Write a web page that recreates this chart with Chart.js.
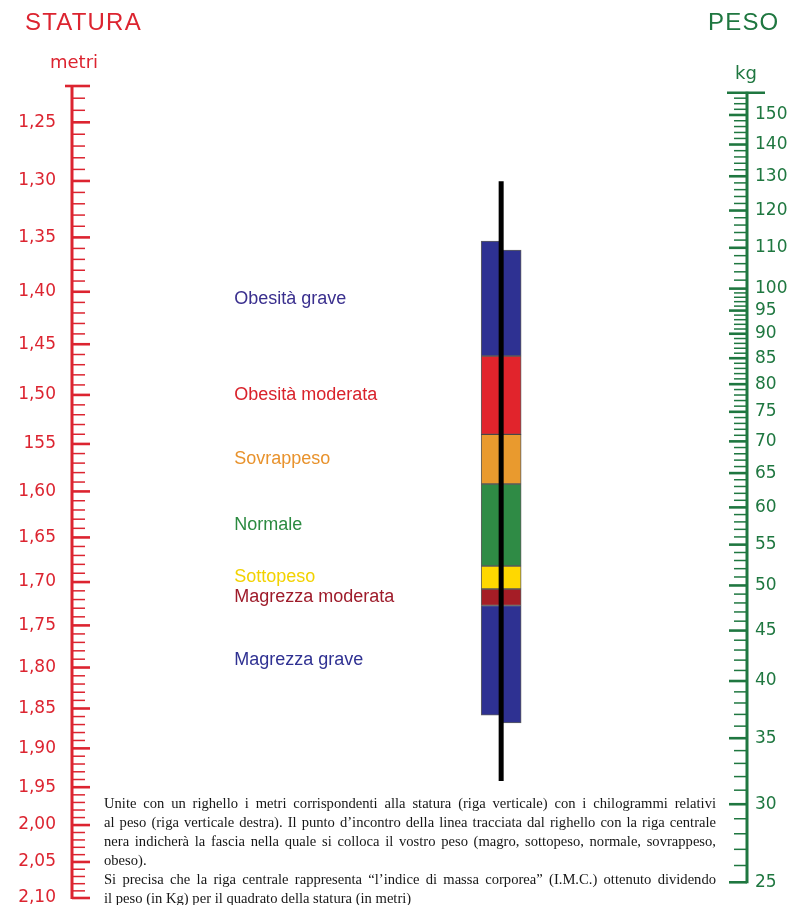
<!DOCTYPE html>
<html lang="it">
<head>
<meta charset="utf-8">
<title>Statura e peso – I.M.C.</title>
<script src="https://cdn.jsdelivr.net/npm/chart.js@4.4.1/dist/chart.umd.min.js"></script>
<style>
  html, body { margin: 0; padding: 0; background: #fff; }
  #wrap { position: relative; width: 794px; height: 905px; overflow: hidden; }
  #chart { position: absolute; left: 0; top: 0; }
  .head { position: absolute; top: 10px; font-family: 'Liberation Sans', Arial, sans-serif; font-size: 24px; line-height: 1; letter-spacing: 1.2px; white-space: nowrap; }
  .unit { position: absolute; font-family: 'DejaVu Sans', sans-serif; font-size: 18px; line-height: 1; white-space: nowrap; }
  #note { position: absolute; left: 104px; top: 794px; width: 612px; font-family: 'Liberation Serif', 'Times New Roman', serif; font-size: 14.6px; line-height: 19px; color: #161616; }
  #note div { white-space: nowrap; text-align: justify; text-align-last: justify; }
  #note div.end { text-align-last: left; }
</style>
</head>
<body>
<div id="wrap">
  <canvas id="chart" width="794" height="905"></canvas>
  <div class="head" style="left:25px;color:#dc2430">STATURA</div>
  <div class="head" style="left:708px;color:#1f7740">PESO</div>
  <div class="unit" style="left:50px;top:53px;color:#dc2430">metri</div>
  <div class="unit" style="left:735px;top:64px;color:#1f7740">kg</div>
  <div id="note">
    <div>Unite con un righello i metri corrispondenti alla statura (riga verticale) con i chilogrammi relativi</div>
    <div>al peso (riga verticale destra). Il punto d’incontro della linea tracciata dal righello con la riga centrale</div>
    <div>nera indicherà la fascia nella quale si colloca il vostro peso (magro, sottopeso, normale, sovrappeso,</div>
    <div class="end">obeso).</div>
    <div>Si precisa che la riga centrale rappresenta “l’indice di massa corporea” (I.M.C.) ottenuto dividendo</div>
    <div class="end">il peso (in Kg) per il quadrato della statura (in metri)</div>
  </div>
</div>
<script>
// Statura (m) – left ruler, log scale, grows downwards
const heightMajor = [1.25, 1.30, 1.35, 1.40, 1.45, 1.50, 1.55, 1.60, 1.65, 1.70, 1.75, 1.80, 1.85, 1.90, 1.95, 2.00, 2.05, 2.10];
const heightLabels = ['1,25', '1,30', '1,35', '1,40', '1,45', '1,50', '155', '1,60', '1,65', '1,70', '1,75', '1,80', '1,85', '1,90', '1,95', '2,00', '2,05', '2,10'];
const heightRuler = [1.22, 2.10];

// Peso (kg) – right ruler, log scale, grows upwards
const weightMajor = [25, 30, 35, 40, 45, 50, 55, 60, 65, 70, 75, 80, 85, 90, 95, 100, 110, 120, 130, 140, 150];
const weightRuler = [25, 158];
const weightAxis = [24.1, 160.5];

// central IMC ribbon
const bandNames = ['Obesità grave', 'Obesità moderata', 'Sovrappeso', 'Normale', 'Sottopeso', 'Magrezza moderata', 'Magrezza grave'];
const bmiCuts = [40, 30, 25, 18.5, 17, 16];
const ribbonTop = [61, 59];        // left half, right half
const ribbonBottom = [10.7, 10.4];
const bmiLine = [76, 8.4];

const RED = '#dc2430';
const GREEN = '#1f7740';
const bandColors = ['#2e3192', '#e1242c', '#e99a2e', '#2f8b45', '#ffd800', '#a51d26', '#2e3192'];
const labelColors = ['#3a2f8e', '#d9222b', '#e8922c', '#2b8a40', '#f2d200', '#9e1b2a', '#2f3192'];

function steps(from, to, step) {
  const out = [];
  for (let v = from; v <= to + 1e-9; v += step) out.push(Math.round(v * 100) / 100);
  return out;
}
const heightTicks = steps(heightRuler[0], heightRuler[1], 0.01);
const weightTicks = steps(weightRuler[0], 100, 1).concat(steps(102, weightRuler[1], 2));

// nomogram geometry: the IMC line sits where the two log rulers combine into W/H²
const Rh = Math.log(heightRuler[1] / heightRuler[0]);
const Rw = Math.log(weightAxis[1] / weightAxis[0]);
const mid = Rw / (Rw + 2 * Rh);
const bmiMin = weightAxis[0] / (heightRuler[1] * heightRuler[1]);
const bmiMax = weightAxis[1] / (heightRuler[0] * heightRuler[0]);

const leftBounds = [ribbonTop[0], ...bmiCuts, ribbonBottom[0]];
const rightBounds = [ribbonTop[1], ...bmiCuts, ribbonBottom[1]];
const half = b => bandNames.map((_, i) => ({ x: mid, y: [b[i + 1], b[i]] }));

function drawRuler(ctx, scale, x, dir, ends, color, cap) {
  const y0 = scale.getPixelForValue(ends[0]);
  const y1 = scale.getPixelForValue(ends[1]);
  ctx.save();
  ctx.strokeStyle = color;
  ctx.lineWidth = 3;
  ctx.beginPath(); ctx.moveTo(x, Math.min(y0, y1) - 1); ctx.lineTo(x, Math.max(y0, y1) + 1); ctx.stroke();
  scale.ticks.forEach(t => {
    const y = scale.getPixelForValue(t.value);
    ctx.lineWidth = t.major ? 2.6 : 1.5;
    ctx.beginPath(); ctx.moveTo(x, y); ctx.lineTo(x + dir * (t.major ? 18 : 13), y); ctx.stroke();
  });
  // cap on the open end of the ruler
  const yc = scale.getPixelForValue(cap.value);
  ctx.lineWidth = 2.6;
  ctx.beginPath(); ctx.moveTo(x - dir * cap.out, yc); ctx.lineTo(x + dir * cap.in, yc); ctx.stroke();
  ctx.restore();
}

const rulers = {
  id: 'rulers',
  afterDraw(chart) {
    const { ctx, chartArea, scales } = chart;
    drawRuler(ctx, scales.h, chartArea.left, 1, heightRuler, RED, { value: heightRuler[0], in: 18, out: 7 });
    drawRuler(ctx, scales.w, chartArea.right, -1, weightRuler, GREEN, { value: weightRuler[1], in: 20, out: 18 });
  }
};

const bandLabels = {
  id: 'bandLabels',
  afterDatasetsDraw(chart) {
    const { ctx, scales } = chart;
    const x = scales.x.getPixelForValue(mid) - 267;
    ctx.save();
    ctx.font = '18px "Liberation Sans", Arial, sans-serif';
    ctx.textAlign = 'left';
    ctx.textBaseline = 'middle';
    bandNames.forEach((name, i) => {
      const y = scales.bmi.getPixelForValue(Math.sqrt(leftBounds[i] * leftBounds[i + 1]));
      ctx.fillStyle = labelColors[i];
      ctx.fillText(name, x, y);
    });
    ctx.restore();
  }
};

const barStyle = {
  type: 'bar',
  yAxisID: 'bmi',
  backgroundColor: bandColors,
  borderColor: 'rgba(40,40,40,0.75)',
  borderWidth: 1,
  borderSkipped: false,
  barThickness: 20,
  order: 1,
};

// fixed side widths, and no extra room for the end labels
const fitSide = width => s => { s.width = width; s.paddingTop = 0; s.paddingBottom = 0; };

new Chart(document.getElementById('chart'), {
  type: 'bar',
  data: {
    datasets: [
      {
        type: 'line',
        data: bmiLine.map(v => ({ x: mid, y: v })),
        yAxisID: 'bmi',
        borderColor: '#000',
        borderWidth: 5,
        borderCapStyle: 'butt',
        pointRadius: 0,
        order: 0,
      },
      { ...barStyle, data: half(leftBounds) },
      { ...barStyle, data: half(rightBounds) },
    ],
  },
  options: {
    responsive: false,
    animation: false,
    layout: { padding: { top: 86, bottom: 7, left: 0, right: 0 } },
    plugins: { legend: { display: false }, tooltip: { enabled: false } },
    scales: {
      x: { type: 'linear', min: 0, max: 1, offset: false, display: false },
      h: {
        type: 'logarithmic',
        axis: 'y',
        position: 'left',
        reverse: true,
        min: heightRuler[0],
        max: heightRuler[1],
        afterFit: fitSide(72),
        afterBuildTicks: s => { s.ticks = heightTicks.map(v => ({ value: v, major: heightMajor.includes(v) })); },
        grid: { display: false, drawTicks: false },
        border: { display: false },
        ticks: {
          autoSkip: false,
          padding: 16,
          color: RED,
          font: { family: "'DejaVu Sans', sans-serif", size: 17 },
          callback: v => { const i = heightMajor.indexOf(v); return i < 0 ? '' : heightLabels[i]; },
        },
      },
      w: {
        type: 'logarithmic',
        axis: 'y',
        position: 'right',
        min: weightAxis[0],
        max: weightAxis[1],
        afterFit: fitSide(47),
        afterBuildTicks: s => { s.ticks = weightTicks.map(v => ({ value: v, major: weightMajor.includes(v) })); },
        grid: { display: false, drawTicks: false },
        border: { display: false },
        ticks: {
          autoSkip: false,
          padding: 8,
          color: GREEN,
          font: { family: "'DejaVu Sans', sans-serif", size: 17 },
          callback: v => (weightMajor.includes(v) ? String(v) : ''),
        },
      },
      bmi: { type: 'logarithmic', axis: 'y', display: false, min: bmiMin, max: bmiMax },
    },
  },
  plugins: [rulers, bandLabels],
});
</script>
</body>
</html>
